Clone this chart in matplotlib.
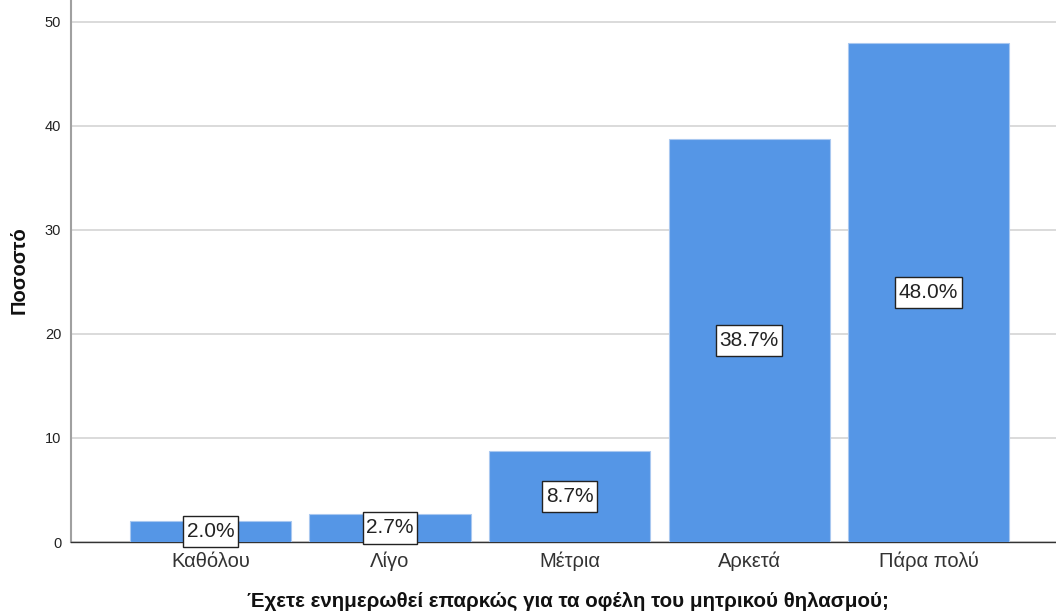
import matplotlib
matplotlib.use("Agg")
import matplotlib.pyplot as plt
from matplotlib.path import Path

# Survey responses (percent of respondents)
categories = ["Καθόλου", "Λίγο", "Μέτρια", "Αρκετά", "Πάρα πολύ"]
percentages = [2.0, 2.7, 8.7, 38.7, 48.0]
y_ticks = [0, 10, 20, 30, 40, 50]
x_title = "Έχετε ενημερωθεί επαρκώς για τα οφέλη του μητρικού θηλασμού;"
y_title = "Ποσοστό"

plt.rcParams["font.family"] = ["Liberation Sans", "DejaVu Sans"]


def label_box(x0, y0, width, height, mutation_size):
    """Rectangular box with more vertical than horizontal padding."""
    px = 0.17 * mutation_size
    py = 0.30 * mutation_size
    x0, y0 = x0 - px, y0 - py
    x1, y1 = x0 + width + 2 * px, y0 + height + 2 * py
    return Path([(x0, y0), (x1, y0), (x1, y1), (x0, y1), (x0, y0)],
                closed=True)


W, H = 1056, 614
fig = plt.figure(figsize=(W / 100, H / 100), dpi=100)
ax = fig.add_axes([71 / W, (H - 542) / H, 1 - 71 / W, 542 / H])

x = list(range(len(categories)))
ax.bar(x, percentages, width=0.897, color="#5596E6", edgecolor="#A9C8F0",
       linewidth=0.8, zorder=3)

for xi, v in zip(x, percentages):
    ax.text(xi, v / 2, f"{v:.1f}%", ha="center", va="center", fontsize=15,
            color="#222222", zorder=4,
            bbox=dict(boxstyle=label_box, fc="white", ec="#222222", lw=1))

ax.set_xlim(-0.777, 4.71)
ax.set_ylim(0, 52.1)
ax.set_yticks(y_ticks)
ax.set_yticklabels([str(t) for t in y_ticks], fontsize=10.5, color="#222222")
ax.set_xticks(x)
ax.set_xticklabels(categories, fontsize=14.5, color="#333333")
ax.tick_params(axis="x", length=0, pad=7)
ax.tick_params(axis="y", length=0, pad=7)

ax.yaxis.grid(True, color="#D4D4D4", linewidth=1.2, zorder=0)
ax.set_axisbelow(True)

for side in ("top", "right"):
    ax.spines[side].set_visible(False)
ax.spines["left"].set_color("#A0A0A0")
ax.spines["left"].set_linewidth(1.5)
ax.spines["bottom"].set_color("#333333")
ax.spines["bottom"].set_linewidth(1.0)

fig.text(19 / W, 1 - 270 / H, y_title, rotation=90, ha="center", va="center",
         fontsize=14.5, fontweight="bold", color="#111111")
fig.text(568 / W, 1 - 601 / H, x_title, ha="center", va="center",
         fontsize=14.8, fontweight="bold", color="#111111")

fig.savefig("out.png", dpi=100)
